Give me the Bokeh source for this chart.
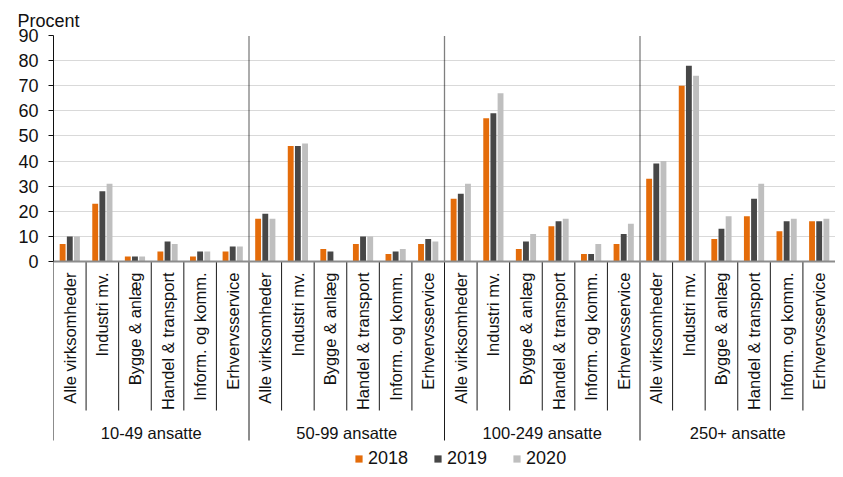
import numpy as np
from bokeh.plotting import figure
from bokeh.models import (Range1d, FixedTicker, Span, Legend, LegendItem, ColumnDataSource)
from bokeh.core.properties import value
from bokeh.embed import file_html
from bokeh.resources import INLINE

groups = ["10-49 ansatte", "50-99 ansatte", "100-249 ansatte", "250+ ansatte"]
categories = ["Alle virksomheder", "Industri mv.", "Bygge & anlæg",
              "Handel & transport", "Inform. og komm.", "Erhvervsservice"]
years = ["2018", "2019", "2020"]

v2018 = [7, 23, 2, 4, 2, 4,
         17, 46, 5, 7, 3, 7,
         25, 57, 5, 14, 3, 7,
         33, 70, 9, 18, 12, 16]
v2019 = [10, 28, 2, 8, 4, 6,
         19, 46, 4, 10, 4, 9,
         27, 59, 8, 16, 3, 11,
         39, 78, 13, 25, 16, 16]
v2020 = [10, 31, 2, 7, 4, 6,
         17, 47, np.nan, 10, 5, 8,
         31, 67, 11, 17, 7, 15,
         40, 74, 18, 31, 17, 17]
y_ticks = [0, 10, 20, 30, 40, 50, 60, 70, 80, 90]

colors = ["#E46C0A", "#474747", "#BFBFBF"]
FONT = "Liberation Sans"

n_cat = len(categories)
n_slots = len(groups) * n_cat
slot_x = np.arange(n_slots) + 0.5

W, H = 835, 469
top_px, left_px = 35, 53
zero_px = 261
ymax = 90.0
px_per_unit = (zero_px - top_px) / 90.0
ymin = ymax - (H - top_px) / px_per_unit

p = figure(width=W, height=H, output_backend="svg", toolbar_location=None,
           x_range=Range1d(0, n_slots), y_range=Range1d(ymin, ymax),
           min_border_left=left_px, min_border_right=0, min_border_top=top_px,
           min_border_bottom=0, title="Procent")
p.outline_line_color = None
p.background_fill_color = "white"
p.border_fill_color = "white"
p.xaxis.visible = False
p.xgrid.visible = False

p.title.text_font = FONT
p.title.text_font_size = "18px"
p.title.text_font_style = "normal"
p.title.text_color = "#111111"
p.title.align = "left"
p.title.offset = -36
p.title.standoff = 10

yax = p.yaxis[0]
yax.ticker = FixedTicker(ticks=y_ticks)
yax.bounds = (0, 90)
yax.axis_line_color = "#111111"
yax.major_tick_line_color = "#111111"
yax.major_tick_out = 5
yax.major_tick_in = 0
yax.minor_tick_line_color = None
yax.major_label_standoff = 10
yax.major_label_text_font = FONT
yax.major_label_text_font_size = "18px"
yax.major_label_text_color = "#111111"

p.ygrid.ticker = FixedTicker(ticks=y_ticks)
p.ygrid.bounds = (0, 90)
p.ygrid.grid_line_color = "#d9d9d9"
p.ygrid.grid_line_width = 1.2

# bars
offsets = [-0.22, 0.0, 0.22]
renderers = []
for vals, off, col in zip([v2018, v2019, v2020], offsets, colors):
    src = ColumnDataSource(dict(x=slot_x + off, top=vals))
    r = p.vbar(x="x", top="top", bottom=0, width=0.18, source=src,
               fill_color=col, line_color=None)
    renderers.append(r)

# x axis baseline
p.add_layout(Span(location=0, dimension="width", line_color="#8c8c8c", line_width=2))

# dotted group separators inside plot
gb = np.arange(1, len(groups)) * n_cat
p.segment(x0=gb, y0=[0] * len(gb), x1=gb, y1=[90] * len(gb),
          line_color="#000000", line_width=1.3, line_dash="1 1")

def to_val(pix_y):
    return (zero_px - pix_y) / px_per_unit

# category separators below axis
cat_b = [b for b in range(0, n_slots + 1) if b % n_cat != 0]
p.segment(x0=cat_b, y0=[0] * len(cat_b), x1=cat_b, y1=[to_val(410)] * len(cat_b),
          line_color="#1a1a1a", line_width=1)
grp_b = list(range(0, n_slots + 1, n_cat))
p.segment(x0=grp_b, y0=[0] * len(grp_b), x1=grp_b, y1=[to_val(440)] * len(grp_b),
          line_color="#1a1a1a", line_width=1)

# category labels
cat_labels = categories * len(groups)
p.text(x=slot_x, y=[to_val(272)] * n_slots, text=cat_labels, angle=np.pi / 2,
       text_align="right", text_baseline="middle", text_font=value(FONT),
       text_font_size="16.5px", text_color="#111111")

# group labels
gx = np.arange(len(groups)) * n_cat + n_cat / 2
p.text(x=gx, y=[to_val(432)] * len(groups), text=groups, text_align="center",
       text_baseline="middle", text_font=value(FONT), text_font_size="16.5px",
       text_color="#111111")

legend = Legend(items=[LegendItem(label=y, renderers=[r]) for y, r in zip(years, renderers)],
                orientation="horizontal", location=(301, 0),
                glyph_width=9, glyph_height=9, label_standoff=5, spacing=25,
                padding=0, margin=0, label_height=16,
                border_line_color=None, background_fill_alpha=0,
                label_text_font=FONT, label_text_font_size="18px",
                label_text_color="#111111", label_text_baseline="middle")
p.add_layout(legend)

open("out.html", "w").write(file_html(p, INLINE))
